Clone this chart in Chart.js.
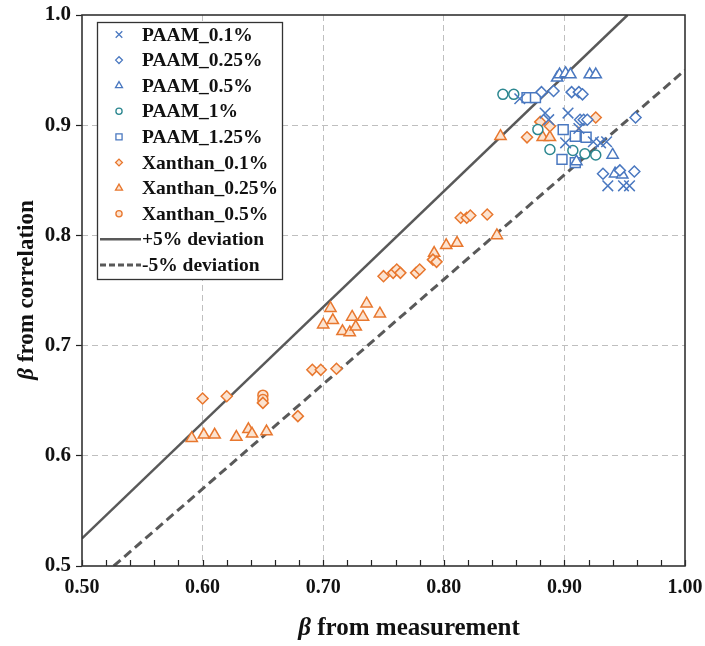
<!DOCTYPE html>
<html>
<head>
<meta charset="utf-8">
<script src="https://cdn.jsdelivr.net/npm/chart.js@4.4.1/dist/chart.umd.min.js"></script>
<style>
  html, body { margin: 0; padding: 0; background: #ffffff; }
  #wrap { position: relative; width: 705px; height: 646px; }
</style>
</head>
<body>
<div id="wrap"><canvas id="c" width="705" height="646"></canvas></div>
<script>
// ---- Data ----
const seriesNames = ["PAAM_0.1%", "PAAM_0.25%", "PAAM_0.5%", "PAAM_1%", "PAAM_1.25%",
                     "Xanthan_0.1%", "Xanthan_0.25%", "Xanthan_0.5%"];
const lineNames = ["+5% deviation", "-5% deviation"];

const paam01X = [0.863, 0.884, 0.887, 0.903, 0.901, 0.912, 0.924, 0.930, 0.935, 0.936, 0.949, 0.954];
const paam01Y = [0.924, 0.911, 0.905, 0.911, 0.884, 0.897, 0.885, 0.884, 0.885, 0.845, 0.845, 0.845];

const paam025X = [0.881, 0.891, 0.906, 0.912, 0.915, 0.913, 0.916, 0.919, 0.959, 0.932, 0.946, 0.958];
const paam025Y = [0.930, 0.931, 0.930, 0.930, 0.928, 0.905, 0.905, 0.905, 0.907, 0.856, 0.859, 0.858];

const paam05X = [0.894, 0.896, 0.901, 0.905, 0.921, 0.926, 0.940, 0.942, 0.948, 0.910];
const paam05Y = [0.943, 0.946, 0.947, 0.946, 0.946, 0.946, 0.873, 0.856, 0.855, 0.867];

const paam1X = [0.849, 0.858, 0.878, 0.888, 0.907, 0.917, 0.926];
const paam1Y = [0.928, 0.928, 0.896, 0.878, 0.877, 0.874, 0.873];

const paam125X = [0.869, 0.876, 0.899, 0.909, 0.918, 0.898, 0.909];
const paam125Y = [0.925, 0.925, 0.896, 0.890, 0.889, 0.869, 0.866];

const xan01X = [0.600, 0.620, 0.650, 0.679, 0.691, 0.698, 0.711, 0.750, 0.758, 0.761, 0.764, 0.777,
                0.780, 0.791, 0.794, 0.814, 0.819, 0.822, 0.836, 0.869, 0.880, 0.888, 0.926];
const xan01Y = [0.652, 0.654, 0.648, 0.636, 0.678, 0.678, 0.679, 0.763, 0.766, 0.769, 0.766, 0.766,
                0.769, 0.778, 0.776, 0.816, 0.816, 0.818, 0.819, 0.889, 0.903, 0.899, 0.907];

const xan025X = [0.591, 0.601, 0.610, 0.628, 0.638, 0.641, 0.653, 0.700, 0.706, 0.708, 0.716, 0.722, 0.724,
                 0.727, 0.733, 0.736, 0.747, 0.792, 0.802, 0.811, 0.844, 0.847, 0.882, 0.888, 0.912];
const xan025Y = [0.616, 0.619, 0.619, 0.617, 0.624, 0.620, 0.622, 0.719, 0.734, 0.723, 0.713, 0.712, 0.726,
                 0.717, 0.726, 0.738, 0.729, 0.784, 0.791, 0.793, 0.800, 0.890, 0.889, 0.889, 0.892];

const xan05X = [0.650, 0.650];
const xan05Y = [0.655, 0.651];

// deviation lines (end points)
const plus5X = [0.50, 0.9524];
const plus5Y = [0.525, 1.00];
const minus5X = [0.5263, 1.00];
const minus5Y = [0.50, 0.95];

const xTickLabels = ["0.50", "0.60", "0.70", "0.80", "0.90", "1.00"];
const yTickLabels = ["0.5", "0.6", "0.7", "0.8", "0.9", "1.0"];

// ---- Styles ----
const BLUE = '#4A78C0';
const TEAL = '#2C8790';
const ORANGE = '#E8772E';
const ORANGE_FILL = '#FCE3D0';
const LINE_GREY = '#595959';
const SERIF = '"Liberation Serif", "Times New Roman", serif';

function pts(xs, ys) { return xs.map((x, i) => ({ x: x, y: ys[i] })); }

const markerDefs = [
  { x: paam01X,  y: paam01Y,  style: 'crossRot', color: BLUE,   fill: 'rgba(0,0,0,0)', r: 7.5 },
  { x: paam025X, y: paam025Y, style: 'rectRot',  color: BLUE,   fill: '#ffffff', r: 5.5 },
  { x: paam05X,  y: paam05Y,  style: 'triangle', color: BLUE,   fill: '#ffffff', r: 6.5 },
  { x: paam1X,   y: paam1Y,   style: 'circle',   color: TEAL,   fill: '#ffffff', r: 5 },
  { x: paam125X, y: paam125Y, style: 'rect',     color: BLUE,   fill: '#ffffff', r: 7 },
  { x: xan01X,   y: xan01Y,   style: 'rectRot',  color: ORANGE, fill: ORANGE_FILL, r: 5.5 },
  { x: xan025X,  y: xan025Y,  style: 'triangle', color: ORANGE, fill: ORANGE_FILL, r: 6.5 },
  { x: xan05X,   y: xan05Y,   style: 'circle',   color: ORANGE, fill: ORANGE_FILL, r: 5 }
];

const datasets = markerDefs.map((m, i) => ({
  type: 'scatter',
  label: seriesNames[i],
  data: pts(m.x, m.y),
  pointStyle: m.style,
  pointRadius: m.r,
  pointHoverRadius: m.r,
  pointBorderWidth: 1.5,
  borderColor: m.color,
  backgroundColor: m.fill,
  pointBorderColor: m.color,
  pointBackgroundColor: m.fill,
  order: i < 5 ? 1 : 2
}));

datasets.push({
  type: 'line', label: lineNames[0], data: pts(plus5X, plus5Y),
  borderColor: LINE_GREY, borderWidth: 2.5, pointRadius: 0, fill: false, clip: 0, order: 3
});
datasets.push({
  type: 'line', label: lineNames[1], data: pts(minus5X, minus5Y),
  borderColor: LINE_GREY, borderWidth: 3, borderDash: [9, 5], pointRadius: 0, fill: false, clip: 0, order: 3
});

function isMajor(v) { return Math.abs(v * 10 - Math.round(v * 10)) < 1e-6; }

// ---- Plugin: frame, inner x ticks, legend box, axis titles ----
const decorPlugin = {
  id: 'decor',
  afterDatasetsDraw(chart) {
    const ctx = chart.ctx;
    const a = chart.chartArea;
    const xs = chart.scales.x;
    ctx.save();
    // inner tick marks on x axis
    ctx.strokeStyle = '#222';
    ctx.lineWidth = 1.2;
    xs.ticks.forEach(t => {
      const px = Math.round(xs.getPixelForValue(t.value)) + 0.5;
      ctx.beginPath();
      ctx.moveTo(px, a.bottom);
      ctx.lineTo(px, a.bottom - 6);
      ctx.stroke();
    });
    // frame
    ctx.strokeStyle = '#333';
    ctx.lineWidth = 1.6;
    ctx.strokeRect(a.left, a.top, a.right - a.left, a.bottom - a.top);

    // legend box
    const lx = 97, ly = 22, lw = 185, lh = 257;
    ctx.fillStyle = '#ffffff';
    ctx.fillRect(lx, ly, lw, lh);
    ctx.strokeStyle = '#333';
    ctx.lineWidth = 1.3;
    ctx.strokeRect(lx + 0.5, ly + 0.5, lw, lh);
    const rowStart = 34.5, rowGap = 25.6;
    ctx.font = 'bold 19.5px ' + SERIF;
    ctx.textBaseline = 'middle';
    ctx.textAlign = 'left';
    const allItems = chart.data.datasets;
    allItems.forEach((ds, i) => {
      const cy = rowStart + i * rowGap;
      if (ds.type === 'scatter') {
        ctx.strokeStyle = ds.pointBorderColor;
        ctx.fillStyle = ds.pointBackgroundColor;
        ctx.lineWidth = 1.3;
        Chart.helpers.drawPoint(ctx, { pointStyle: ds.pointStyle, radius: ds.pointRadius * 0.62, borderWidth: 1.3, rotation: 0 }, 119, cy);
      } else {
        ctx.strokeStyle = ds.borderColor;
        ctx.lineWidth = ds.borderWidth;
        ctx.setLineDash(ds.borderDash ? [6, 3] : []);
        ctx.beginPath();
        ctx.moveTo(100, cy);
        ctx.lineTo(141, cy);
        ctx.stroke();
        ctx.setLineDash([]);
      }
      ctx.fillStyle = '#111';
      ctx.fillText(ds.label, 142, cy + 1);
    });

    // axis titles (β italic)
    function titled(cx, cy, rest, rot, size) {
      ctx.save();
      ctx.translate(cx, cy);
      ctx.rotate(rot);
      const f1 = 'italic bold ' + size + 'px ' + SERIF;
      const f2 = 'bold ' + size + 'px ' + SERIF;
      ctx.font = f1; const w1 = ctx.measureText('β').width;
      ctx.font = f2; const w2 = ctx.measureText(rest).width;
      let x0 = -(w1 + w2) / 2;
      ctx.fillStyle = '#111';
      ctx.textBaseline = 'middle';
      ctx.textAlign = 'left';
      ctx.font = f1; ctx.fillText('β', x0, 0);
      ctx.font = f2; ctx.fillText(rest, x0 + w1, 0);
      ctx.restore();
    }
    titled(409, 629, ' from measurement', 0, 25);
    titled(27, 290, ' from correlation', -Math.PI / 2, 23);
    ctx.restore();
  }
};

new Chart(document.getElementById('c'), {
  type: 'scatter',
  data: { datasets: datasets },
  options: {
    responsive: false,
    animation: false,
    events: [],
    layout: { padding: { top: 15, right: 20, left: 0, bottom: 0 } },
    plugins: { legend: { display: false }, tooltip: { enabled: false } },
    scales: {
      x: {
        type: 'linear', min: 0.5, max: 1.0,
        afterFit(s) { s.height = 80; s.paddingLeft = 0; s.paddingRight = 0; },
        ticks: {
          stepSize: 0.02, autoSkip: false, maxRotation: 0, padding: 10,
          color: '#111', font: { family: SERIF, size: 20, weight: 'bold' },
          callback(v) {
            if (!isMajor(v)) return '';
            const idx = Math.round((v - 0.5) * 10);
            return xTickLabels[idx];
          }
        },
        grid: {
          drawTicks: false, lineWidth: 1,
          color(c) {
            const v = c.tick ? c.tick.value : 0;
            if (!isMajor(v) || v < 0.55 || v > 0.95) return 'rgba(0,0,0,0)';
            return '#BFBFBF';
          }
        },
        border: { display: false, dash: [6, 4] }
      },
      y: {
        type: 'linear', min: 0.5, max: 1.0,
        afterFit(s) { s.width = 82; s.paddingTop = 0; s.paddingBottom = 0; },
        ticks: {
          stepSize: 0.1, padding: 5,
          color: '#111', font: { family: SERIF, size: 21, weight: 'bold' },
          callback(v) {
            const idx = Math.round((v - 0.5) * 10);
            return yTickLabels[idx];
          }
        },
        grid: {
          drawTicks: true, tickLength: 6, tickColor: '#222', tickWidth: 1.2, lineWidth: 1,
          color(c) {
            const v = c.tick ? c.tick.value : 0;
            if (v < 0.55 || v > 0.95) return 'rgba(0,0,0,0)';
            return '#BFBFBF';
          }
        },
        border: { display: false, dash: [6, 4] }
      }
    }
  },
  plugins: [decorPlugin]
});
</script>
</body>
</html>
